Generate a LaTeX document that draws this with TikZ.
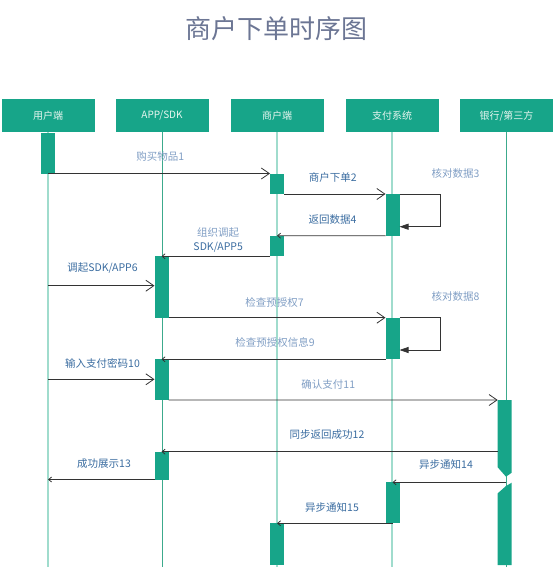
\documentclass[tikz,border=0pt]{standalone}
\usepackage{fontspec}
\setmainfont{Noto Sans CJK SC}
\usepackage{tikz}
\usetikzlibrary{arrows.meta}
\definecolor{teal1}{RGB}{23,165,137}
\definecolor{lifelt}{RGB}{160,220,205}
\definecolor{lifedk}{RGB}{60,170,140}
\definecolor{txtdk}{RGB}{58,108,160}
\definecolor{txtlt}{RGB}{128,158,196}
\definecolor{ttl}{RGB}{108,118,148}
\definecolor{hdrtxt}{RGB}{232,246,240}

\begin{document}
\begin{tikzpicture}[x=1pt, y=-1pt,
  every node/.style={font=\fontsize{10.5}{14}\selectfont},
  hdr/.style={fill=teal1, text=hdrtxt, minimum width=93, minimum height=33, inner sep=0pt, font=\fontsize{10}{12}\selectfont},
  bar/.style={fill=teal1, minimum width=14, inner sep=0pt, outer sep=0pt, anchor=north},
  lifel/.style={draw=lifelt, line width=1.5pt},
  lifed/.style={draw=lifedk, line width=0.8pt},
  msg/.style={draw=black!80, line width=0.8pt, -{Straight Barb[length=8pt,width=11pt]}},
  ret/.style={draw=black!80, line width=0.8pt, -{Straight Barb[length=3pt,width=5pt]}},
  selfmsg/.style={draw=black!80, line width=0.8pt, -{Triangle[length=9pt,width=6pt]}},
  lbl/.style={text=txtdk},
  lbllt/.style={text=txtlt}]
  \useasboundingbox (0,0) rectangle (554,570);
  \node[text=ttl, font=\fontsize{26}{30}\selectfont] (title) at (276,29) {商户下单时序图};
  \node[hdr] (user) at (48,115.7) {用户端};
  \node[hdr] (app) at (162,115.7) {APP/SDK};
  \node[hdr] (merch) at (277,115.7) {商户端};
  \node[hdr] (pay) at (392,115.7) {支付系统};
  \node[hdr] (bank) at (506.5,115.7) {银行/第三方};
  \draw[lifel] (user.south) -- ++(0,435);
  \draw[lifed] (app.south) -- ++(0,435);
  \draw[lifel] (merch.south) -- ++(0,435);
  \draw[lifel] (pay.south) -- ++(0,435);
  \draw[lifed] (bank.south) -- ++(0,435);
  \node[bar, minimum height=41] (ub) at (48,132.5) {};
  \node[bar, minimum height=20.5] (mb1) at (277,173.5) {};
  \node[bar, minimum height=41.7] (pb1) at (392.5,194) {};
  \node[bar, minimum height=20.6] (mb2) at (277,235.7) {};
  \node[bar, minimum height=61.4] (ab1) at (161.5,256.3) {};
  \node[bar, minimum height=41.6] (pb2) at (392.5,317.7) {};
  \node[bar, minimum height=40.7] (ab2) at (161.5,359.3) {};
  \node[bar, minimum height=165, fill=none] (kb) at (504.7,400) {};
  \node[bar, minimum height=27.8] (ab3) at (161.5,451.7) {};
  \node[bar, minimum height=41] (pb3) at (392.5,482.3) {};
  \node[bar, minimum height=42] (mb3) at (277,523.3) {};
  \fill[teal1] (kb.north west) -- (kb.north east) -- (511.7,472.7) -- (506,476.7) -- (497.7,467.3) -- cycle;
  \fill[teal1] (497.7,493.3) -- (506,486) -- (511.7,482.7) -- (kb.south east) -- (kb.south west) -- cycle;
  \coordinate (u6) at (48,285.7);
  \coordinate (u10) at (48,379.3);
  \coordinate (k14) at (506,482.3);
  \draw[msg] (ub.south) -- (mb1.north west);
  \draw[msg] (mb1.south east) -- (pb1.north west);
  \draw[selfmsg] (pb1.north east) -- ++(41,0) -- ++(0,32.7) -- ++(-41,0);
  \draw[ret] (pb1.south west) -- (mb2.north);
  \draw[ret] (mb2.south west) -- (ab1.north);
  \draw[msg] (u6) -- (ab1.west |- u6);
  \draw[msg] (ab1.south east) -- (pb2.north west);
  \draw[selfmsg] (pb2.north east) -- ++(41,0) -- ++(0,32.3) -- ++(-41,0);
  \draw[ret] (pb2.south west) -- (ab2.north);
  \draw[msg] (u10) -- (ab2.west |- u10);
  \draw[msg] (ab2.south east) -- (kb.north west);
  \draw[ret] (kb.west |- ab3.north) -- (ab3.north);
  \draw[ret] (ab3.south west) -- (user.south |- ab3.south);
  \draw[ret] (k14) -- (pb3.north);
  \draw[ret] (pb3.south) -- (mb3.north);
  \node[lbllt] (l1) at (160.3,156.7) {购买物品1};
  \node[lbl] (l2) at (332.8,177.7) {商户下单2};
  \node[lbllt] (l3) at (455.5,173.3) {核对数据3};
  \node[lbl] (l4) at (332.5,219.3) {返回数据4};
  \node[align=center] (l5) at (218.2,239.7) {\textcolor{txtlt}{组织调起}\\\textcolor{txtdk}{SDK/APP5}};
  \node[lbl] (l6) at (102.5,268.3) {调起SDK/APP6};
  \node[lbllt] (l7) at (274.5,302) {检查预授权7};
  \node[lbllt] (l8) at (455.5,296.7) {核对数据8};
  \node[lbllt] (l9) at (275,342.3) {检查预授权信息9};
  \node[lbl] (l10) at (102.5,363.3) {输入支付密码10};
  \node[lbllt] (l11) at (328.3,384) {确认支付11};
  \node[lbl] (l12) at (327,435) {同步返回成功12};
  \node[lbl] (l13) at (104,463.3) {成功展示13};
  \node[lbl] (l14) at (446,465) {异步通知14};
  \node[lbl] (l15) at (332,507.3) {异步通知15};
\end{tikzpicture}
\end{document}
